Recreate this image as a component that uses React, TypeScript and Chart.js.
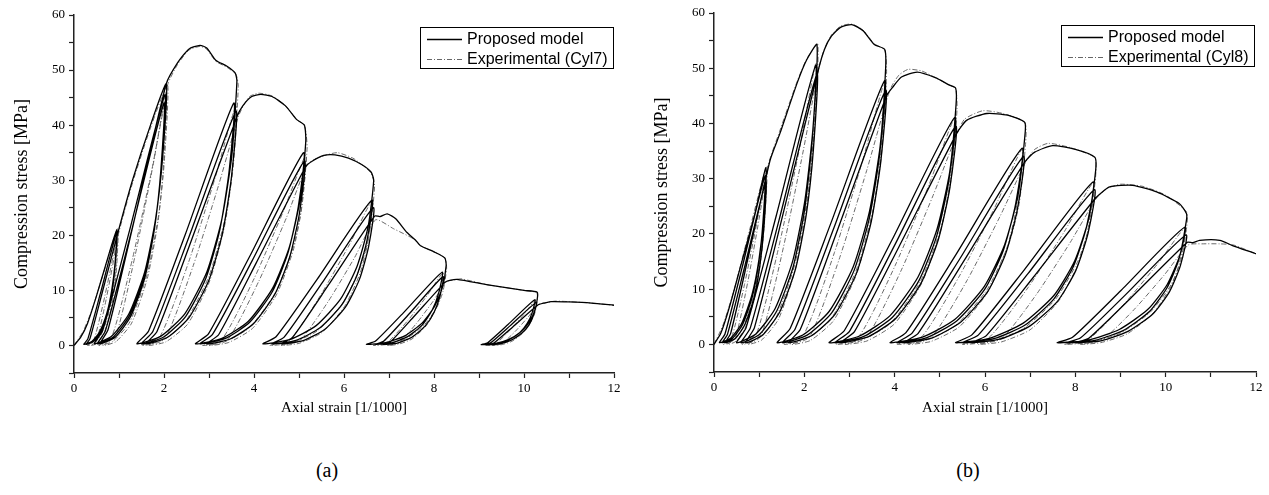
import React, { useEffect, useRef } from 'react';
import { Chart, registerables } from 'chart.js';
Chart.register(...registerables);

type P = [number, number];

// ---------- text / ticks ----------
const xTicks = [0, 2, 4, 6, 8, 10, 12];
const yTicks = [0, 10, 20, 30, 40, 50, 60];
const xAxisTitle = 'Axial strain [1/1000]';
const yAxisTitle = 'Compression stress [MPa]';
const labelsA = ['Proposed model', 'Experimental (Cyl7)'];
const labelsB = ['Proposed model', 'Experimental (Cyl8)'];
const captions = ['(a)', '(b)'];

// ---------- panel (a) Cyl7 : proposed model ----------
const aModG1: P[] = [[0,0],[0.15,1.5],[0.3,4],[0.5,9],[0.7,14.5],[0.95,21],
 [0.914,15.1],[0.84,10.1],[0.731,5.9],[0.57,2.5],[0.395,0.7],[0.22,0.2],
 [0.308,1.2],[0.585,9.4],[0.95,20.5],
 [0.916,14.8],[0.848,9.8],[0.746,5.7],[0.596,2.5],[0.433,0.7],[0.27,0.2],
 [0.353,1.2],[0.615,9.2],[0.96,20],[1.3,30],[1.7,40],[2.05,47.5]];
const aModG2: P[] = [[1.97,34.2],[1.81,22.8],[1.57,13.3],[1.218,5.7],[0.834,1.66],[0.45,0.3],
 [0.638,2.7],[1.235,20.9],[2.02,45.5],
 [1.945,32.8],[1.795,21.8],[1.57,12.7],[1.24,5.5],[0.88,1.6],[0.52,0.3],
 [0.698,2.64],[1.26,20.2],[2.0,44],
 [1.929,31.7],[1.787,21.1],[1.574,12.3],[1.262,5.3],[0.921,1.54],[0.58,0.3],
 [0.756,2.85],[1.315,21.9],[2.05,47.5],
 [2.3,51.3],[2.55,53.8],[2.8,54.5],[2.95,54],[3.15,51.8],[3.4,50.7],[3.58,49.5],[3.62,48]];
const aModG3: P[] = [[3.509,34.6],[3.287,23],[2.954,13.4],[2.466,5.8],[1.933,1.7],[1.4,0.3],
 [1.658,2.64],[2.475,20.2],[3.55,44],
 [3.448,31.7],[3.243,21.1],[2.935,12.3],[2.484,5.3],[1.992,1.54],[1.5,0.3],
 [1.752,2.55],[2.55,19.6],[3.6,42.5],
 [3.5,30.6],[3.3,20.4],[3.0,11.9],[2.56,5.1],[2.08,1.49],[1.6,0.3],
 [1.842,2.5],[2.61,19.1],[3.62,41.5],
 [3.75,43.5],[3.95,45.2],[4.15,45.6],[4.4,45.2],[4.7,43.5],[4.95,41],[5.12,40],[5.15,37]];
const aModG4: P[] = [[5.028,26.6],[4.783,17.8],[4.415,10.4],[3.876,4.4],[3.288,1.3],[2.7,0.3],
 [2.988,2.1],[3.9,16.1],[5.1,35],
 [4.985,25.2],[4.755,16.8],[4.41,9.8],[3.904,4.2],[3.352,1.23],[2.8,0.3],
 [3.078,2.0],[3.96,15.4],[5.12,33.5],
 [5.012,24.1],[4.795,16.1],[4.469,9.4],[3.992,4.0],[3.471,1.17],[2.95,0.3],
 [3.214,1.95],[4.05,15],[5.15,32.5],
 [5.3,33.5],[5.55,34.5],[5.8,34.6],[6.1,34],[6.4,32.8],[6.6,31.5],[6.66,30]];
const aModG5: P[] = [[6.537,21.6],[6.291,14.4],[5.922,8.4],[5.381,3.6],[4.79,1.05],[4.2,0.3],
 [4.49,1.58],[5.41,12.1],[6.62,26.4],
 [6.509,19],[6.287,12.7],[5.954,7.4],[5.466,3.2],[4.933,0.92],[4.4,0.3],
 [4.67,1.5],[5.525,11.5],[6.65,25],
 [6.548,18],[6.343,12],[6.035,7],[5.584,3],[5.092,0.88],[4.6,0.3],
 [4.85,1.41],[5.64,10.8],[6.68,23.5],
 [6.8,23.4],[6.96,23.9],[7.15,23],[7.4,20.5],[7.58,19.2],[7.7,18.1],[8.0,17],[8.24,15.9],[8.27,14.5]];
const aModG6: P[] = [[8.182,10.4],[8.005,7.0],[7.739,4.1],[7.35,1.74],[6.925,0.51],[6.5,0.2],
 [6.702,0.8],[7.34,6.1],[8.18,13.3],
 [8.106,9.6],[7.958,6.4],[7.736,3.7],[7.41,1.6],[7.055,0.47],[6.7,0.2],
 [6.88,0.75],[7.45,5.75],[8.2,12.5],
 [8.134,9.0],[8.0,6.0],[7.801,3.5],[7.508,1.5],[7.189,0.44],[6.87,0.2],
 [7.036,0.69],[7.56,5.3],[8.25,11.5],
 [8.35,11.8],[8.51,12],[9.2,11],[10.0,10],[10.29,9.7],[10.3,8.8]];
const aModG7: P[] = [[10.238,6.3],[10.113,4.2],[9.925,2.46],[9.65,1.06],[9.35,0.31],[9.05,0.15],
 [9.193,0.5],[9.645,3.8],[10.24,8.3],
 [10.184,6.0],[10.072,4.0],[9.904,2.3],[9.658,1.0],[9.389,0.29],[9.12,0.15],
 [9.258,0.47],[9.695,3.6],[10.27,7.8],
 [10.217,5.6],[10.11,3.7],[9.949,2.2],[9.714,0.94],[9.457,0.27],[9.2,0.15],
 [9.332,0.44],[9.75,3.36],[10.3,7.3],
 [10.45,7.7],[10.6,7.95],[11.0,7.9],[11.5,7.7],[12,7.3]];

// ---------- panel (a) Cyl7 : experimental ----------
const aExpG1: P[] = [[0,0],[0.2,2.5],[0.4,6.5],[0.65,13],[0.97,21.3],
 [0.937,14.9],[0.883,10.65],[0.769,5.75],[0.601,1.92],[0.434,0.32],[0.3,0],
 [0.436,0.83],[0.64,7.3],[0.83,14.6],[0.98,20.8],
 [0.95,14.6],[0.902,10.4],[0.8,5.6],[0.65,1.87],[0.5,0.31],[0.38,0],
 [0.5,0.8],[0.68,7],[0.848,14],[0.98,20],[1.3,29.5],[1.7,39.5],[2.08,47.3]];
const aExpG2: P[] = [[2.004,33.1],[1.881,23.7],[1.621,12.8],[1.239,4.26],[0.856,0.71],[0.55,0],
 [0.85,1.8],[1.3,15.75],[1.72,31.5],[2.05,45],
 [1.98,31.5],[1.868,22.5],[1.63,12.2],[1.28,4.05],[0.93,0.68],[0.65,0],
 [0.936,1.9],[1.365,16.6],[1.765,33.1],[2.08,47.3],
 [2.3,51],[2.55,53.6],[2.8,54.3],[2.95,53.8],[3.15,51.6],[3.4,50.5],[3.6,49.2],[3.65,47]];
const aExpG3: P[] = [[3.543,32.9],[3.371,23.5],[3.005,12.7],[2.468,4.23],[1.93,0.7],[1.5,0],
 [1.92,1.74],[2.55,15.2],[3.138,30.5],[3.6,43.5],
 [3.503,30.5],[3.347,21.75],[3.015,11.7],[2.528,3.9],[2.04,0.65],[1.65,0],
 [2.05,1.66],[2.65,14.5],[3.21,29],[3.65,41.5],
 [3.75,43.3],[3.9,45.2],[4.1,45.8],[4.4,45.3],[4.7,43.5],[4.95,41],[5.12,40],[5.18,36]];
const aExpG4: P[] = [[5.064,25.2],[4.877,18],[4.481,9.7],[3.899,3.24],[3.316,0.54],[2.85,0],
 [3.31,1.38],[4.0,12.1],[4.644,24.2],[5.15,34.5],
 [5.043,24.2],[4.871,17.25],[4.505,9.3],[3.968,3.1],[3.43,0.52],[3.0,0],
 [3.44,1.32],[4.1,11.55],[4.716,23.1],[5.2,33],
 [5.5,34.3],[5.85,35],[6.2,34],[6.4,32.8],[6.6,31.3],[6.68,29]];
const aExpG5: P[] = [[6.564,20.3],[6.377,14.5],[5.981,7.8],[5.399,2.6],[4.816,0.44],[4.35,0],
 [4.804,1.05],[5.485,9.2],[6.12,18.3],[6.62,26.2],
 [6.519,18.3],[6.357,13.1],[6.014,7.1],[5.509,2.36],[5.004,0.39],[4.6,0],
 [5.02,0.91],[5.65,8.0],[6.238,16],[6.7,22.8],
 [7.1,21.2],[7.58,19.2],[7.7,18.1],[8.0,17],[8.24,15.9],[8.28,14]];
const aExpG6: P[] = [[8.199,9.8],[8.068,7.0],[7.791,3.78],[7.384,1.26],[6.976,0.21],[6.65,0],
 [6.96,0.53],[7.425,4.6],[7.86,9.2],[8.2,13.2],
 [8.138,9.2],[8.038,6.6],[7.825,3.56],[7.513,1.19],[7.2,0.2],[6.95,0],
 [7.216,0.46],[7.615,4.06],[7.987,8.1],[8.28,11.6],
 [8.45,11.9],[8.6,12.1],[9.2,11],[10.0,10],[10.28,9.6],[10.3,8.5]];
const aExpG7: P[] = [[10.243,5.95],[10.15,4.25],[9.955,2.3],[9.668,0.77],[9.38,0.13],[9.15,0],
 [9.37,0.33],[9.7,2.87],[10.008,5.74],[10.25,8.2],
 [10.203,5.74],[10.127,4.1],[9.965,2.2],[9.728,0.74],[9.49,0.12],[9.3,0],
 [9.504,0.3],[9.81,2.6],[10.096,5.2],[10.32,7.4],
 [10.5,7.8],[10.7,8.05],[11.0,7.95],[11.5,7.7],[12,7.3]];

// ---------- panel (b) Cyl8 : proposed model ----------
const bModG1: P[] = [[0,0],[0.15,2],[0.35,7],[0.6,14.5],[0.9,23.5],[1.15,32],
 [1.099,23],[0.996,15.4],[0.841,9.0],[0.614,3.84],[0.367,1.12],[0.12,0.3],
 [0.241,1.83],[0.625,14],[1.13,30.5],
 [1.083,22],[0.988,14.6],[0.845,8.5],[0.636,3.66],[0.408,1.07],[0.18,0.3],
 [0.296,1.77],[0.665,13.6],[1.15,29.5],
 [1.105,21.2],[1.015,14.2],[0.88,8.3],[0.682,3.54],[0.466,1.03],[0.25,0.3],
 [0.369,2.0],[0.745,15.3],[1.24,33.3],[1.46,38.2],[1.84,47.3],[2.05,51.5],[2.28,54.3]];
const bModG2: P[] = [[2.191,39.1],[2.013,26.1],[1.746,15.2],[1.354,6.5],[0.927,1.9],[0.5,0.3],
 [0.71,3.0],[1.375,23.2],[2.25,50.5],
 [2.168,36.4],[2.003,24.2],[1.755,14.1],[1.392,6.1],[1.004,1.77],[0.6,0.3],
 [0.802,2.94],[1.44,22.5],[2.28,49],
 [2.201,35.3],[2.043,23.5],[1.806,13.7],[1.458,5.9],[1.079,1.7],[0.7,0.3],
 [0.894,3.0],[1.51,23],[2.32,50],[2.45,53.5],[2.6,55.8],[2.8,57.4],[3.05,57.9],[3.3,56.8],[3.55,54.3],[3.78,53.4],[3.8,50]];
const bModG3: P[] = [[3.68,36],[3.44,24],[3.08,14],[2.552,6],[1.976,1.75],[1.4,0.3],
 [1.686,2.87],[2.59,22],[3.78,47.8],
 [3.667,34.4],[3.441,22.9],[3.102,13.4],[2.605,5.7],[2.062,1.67],[1.52,0.3],
 [1.794,2.76],[2.66,21.2],[3.8,46],
 [3.693,33.1],[3.478,22.1],[3.155,12.9],[2.682,5.5],[2.166,1.6],[1.65,0.3],
 [1.91,2.7],[2.735,20.7],[3.82,45],
 [3.95,46.5],[4.15,48.4],[4.5,49.3],[4.9,48.3],[5.2,47],[5.35,46.4],[5.36,43.5]];
const bModG4: P[] = [[5.22,31.3],[4.939,20.9],[4.517,12.2],[3.899,5.2],[3.224,1.52],[2.55,0.3],
 [2.884,2.47],[3.94,18.9],[5.33,41.1],
 [5.198,29.6],[4.933,19.7],[4.535,11.5],[3.952,4.9],[3.316,1.44],[2.68,0.3],
 [3.0,2.37],[4.015,18.2],[5.35,39.5],
 [5.223,28.4],[4.968,19],[4.585,11.1],[4.024,4.7],[3.412,1.38],[2.8,0.3],
 [3.11,2.3],[4.09,17.6],[5.38,38.3],
 [5.6,40.6],[6.04,41.8],[6.5,41.5],[6.88,40.2],[6.88,37.5]];
const bModG5: P[] = [[6.731,27],[6.433,18],[5.986,10.5],[5.33,4.5],[4.615,1.31],[3.9,0.3],
 [4.25,2.13],[5.36,16.3],[6.82,35.5],
 [6.682,25.6],[6.405,17],[5.989,9.9],[5.38,4.3],[4.715,1.24],[4.05,0.3],
 [4.386,2.04],[5.45,15.6],[6.85,34],
 [6.718,24.5],[6.453,16.3],[6.055,9.5],[5.472,4.1],[4.836,1.19],[4.2,0.3],
 [4.52,2.0],[5.54,15.2],[6.88,33],
 [7.1,34.8],[7.5,36],[8.0,35.3],[8.43,33.9],[8.45,31.5]];
const bModG6: P[] = [[8.295,22.7],[7.985,15.1],[7.52,8.8],[6.838,3.8],[6.094,1.1],[5.35,0.3],
 [5.715,1.76],[6.87,13.5],[8.39,29.4],
 [8.245,21.2],[7.957,14.1],[7.523,8.2],[6.887,3.5],[6.194,1.03],[5.5,0.3],
 [5.85,1.68],[6.96,12.9],[8.42,28],
 [8.284,20.2],[8.012,13.4],[7.604,7.8],[7.006,3.4],[6.353,0.98],[5.7,0.3],
 [6.03,1.59],[7.075,12.2],[8.45,26.5],
 [8.76,28.5],[9.27,28.8],[9.8,27.6],[10.3,25.5],[10.46,23.7],[10.46,22.5]];
const bModG7: P[] = [[10.317,16.2],[10.031,10.8],[9.602,6.3],[8.973,2.7],[8.286,0.79],[7.6,0.3],
 [7.938,1.27],[9.01,9.75],[10.42,21.2],
 [10.289,15.3],[10.027,10.2],[9.634,5.9],[9.058,2.5],[8.429,0.74],[7.8,0.3],
 [8.118,1.19],[9.125,9.1],[10.45,19.8],
 [10.328,14.3],[10.083,9.5],[9.715,5.5],[9.176,2.4],[8.588,0.69],[8.0,0.3],
 [8.298,1.11],[9.24,8.5],[10.48,18.5],
 [10.6,18.4],[10.75,18.85],[11.2,18.85],[11.48,17.9],[11.97,16.5],[12,16.4]];

// ---------- panel (b) Cyl8 : experimental ----------
const bExpG1: P[] = [[0,0],[0.2,3.5],[0.45,10],[0.75,19.5],[1.17,32.3],
 [1.122,22.6],[1.044,16.15],[0.879,8.7],[0.637,2.9],[0.394,0.48],[0.2,0],
 [0.39,1.24],[0.675,10.85],[0.941,21.7],[1.15,31],
 [1.108,21.7],[1.04,15.5],[0.895,8.4],[0.683,2.8],[0.47,0.47],[0.3,0],
 [0.48,1.3],[0.75,11.4],[1.0,22.75],[1.2,32.5],[1.45,38.5],[1.85,47.8],[2.06,51.8],[2.3,54.3]];
const bExpG2: P[] = [[2.216,38],[2.082,27.2],[1.796,14.7],[1.376,4.9],[0.956,0.81],[0.62,0],
 [0.948,2.04],[1.44,17.85],[1.899,35.7],[2.26,51],
 [2.185,35.7],[2.064,25.5],[1.807,13.8],[1.43,4.6],[1.052,0.77],[0.75,0],
 [1.064,2.0],[1.535,17.5],[1.975,35],[2.32,50],
 [2.45,53.6],[2.6,56],[2.8,57.6],[3.05,58],[3.3,56.9],[3.55,54.4],[3.78,53.3],[3.82,49]];
const bExpG3: P[] = [[3.707,34.3],[3.525,24.5],[3.139,13.2],[2.572,4.4],[2.004,0.74],[1.55,0],
 [1.996,1.9],[2.665,16.6],[3.289,33.25],[3.78,47.5],
 [3.677,33.25],[3.512,23.75],[3.162,12.8],[2.647,4.3],[2.132,0.71],[1.72,0],
 [2.146,1.8],[2.785,15.75],[3.381,31.5],[3.85,45],
 [3.95,47],[4.1,48.8],[4.3,49.8],[4.6,49.5],[4.9,48.3],[5.2,47],[5.35,46.3],[5.38,42.5]];
const bExpG4: P[] = [[5.246,29.75],[5.032,21.25],[4.576,11.5],[3.906,3.8],[3.236,0.64],[2.7,0],
 [3.226,1.64],[4.015,14.35],[4.751,28.7],[5.33,41],
 [5.209,28.7],[5.014,20.5],[4.601,11.1],[3.994,3.7],[3.386,0.62],[2.9,0],
 [3.4,1.54],[4.15,13.5],[4.85,26.95],[5.4,38.5],
 [5.55,40.8],[5.95,42.3],[6.4,41.8],[6.88,40.2],[6.9,36.5]];
const bExpG5: P[] = [[6.758,25.55],[6.53,18.25],[6.045,9.9],[5.333,3.3],[4.62,0.55],[4.05,0],
 [4.604,1.41],[5.435,12.4],[6.211,24.7],[6.82,35.3],
 [6.694,24.7],[6.492,17.65],[6.064,9.5],[5.434,3.2],[4.804,0.53],[4.3,0],
 [4.82,1.32],[5.6,11.55],[6.328,23.1],[6.9,33],
 [7.1,35.3],[7.4,36.4],[7.9,35.6],[8.43,33.8],[8.45,30.5]];
const bExpG6: P[] = [[8.303,21.35],[8.067,15.25],[7.565,8.2],[6.828,2.75],[6.09,0.46],[5.5,0],
 [6.08,1.17],[6.95,10.25],[7.762,20.5],[8.4,29.3],
 [8.273,20.5],[8.069,14.65],[7.635,7.9],[6.998,2.64],[6.36,0.44],[5.85,0],
 [6.374,1.06],[7.16,9.3],[7.894,18.55],[8.47,26.5],
 [8.7,28.2],[9.0,29],[9.5,28.6],[10.0,27],[10.46,24],[10.47,21.5]];
const bExpG7: P[] = [[10.334,15.05],[10.116,10.75],[9.654,5.8],[8.974,1.94],[8.294,0.32],[7.75,0],
 [8.284,0.84],[9.085,7.35],[9.833,14.7],[10.42,21],
 [10.304,14.7],[10.118,10.5],[9.724,5.67],[9.144,1.89],[8.564,0.32],[8.1,0],
 [8.58,0.72],[9.3,6.3],[9.972,12.6],[10.5,18],
 [10.8,18.2],[11.2,18.2],[11.5,18.0],[11.97,16.5],[12,16.4]];

const SERIF = '"Liberation Serif", "Times New Roman", serif';
const SANS = '"Liberation Sans", Arial, sans-serif';

const toXY = (groups: P[][]) => groups.flat().map(([x, y]) => ({ x, y }));

const boxLegend = {
  id: 'boxLegend',
  afterDraw(chart: any, _args: any, opts: any) {
    const { ctx } = chart;
    const { x, y, w, h, labels } = opts;
    ctx.save();
    ctx.fillStyle = '#fff';
    ctx.fillRect(x, y, w, h);
    ctx.strokeStyle = '#000';
    ctx.lineWidth = 1;
    ctx.strokeRect(x + 0.5, y + 0.5, w, h);
    labels.forEach((lab: string, i: number) => {
      const cy = y + 12 + i * 20;
      ctx.beginPath();
      ctx.setLineDash(i === 0 ? [] : [5, 2, 1, 2]);
      ctx.strokeStyle = i === 0 ? '#000' : '#555';
      ctx.lineWidth = i === 0 ? 1.4 : 0.9;
      ctx.moveTo(x + 7, cy + 0.5);
      ctx.lineTo(x + 42, cy + 0.5);
      ctx.stroke();
      ctx.setLineDash([]);
      ctx.fillStyle = '#000';
      ctx.font = `16px ${SANS}`;
      ctx.textBaseline = 'middle';
      ctx.textAlign = 'left';
      ctx.fillText(lab, x + 47, cy + 1);
    });
    ctx.restore();
  },
};

function makeConfig(model: P[][], exp: P[][], labels: string[], legend: { x: number; y: number }, padTop: number, padRight: number, xH: number): any {
  return {
    type: 'scatter',
    data: {
      datasets: [
        { label: labels[0], data: toXY(model), showLine: true, borderColor: '#000', borderWidth: 1.3, pointRadius: 0, tension: 0.2, fill: false, order: 0 },
        { label: labels[1], data: toXY(exp), showLine: true, borderColor: '#5a5a5a', borderWidth: 0.9, borderDash: [5, 2, 1, 2], pointRadius: 0, tension: 0.2, fill: false, order: 1 },
      ],
    },
    plugins: [boxLegend],
    options: {
      animation: false,
      responsive: false,
      devicePixelRatio: 1,
      layout: { padding: { top: padTop, right: padRight, left: 0, bottom: 0 } },
      plugins: {
        legend: { display: false },
        tooltip: { enabled: false },
        boxLegend: { x: legend.x, y: legend.y, w: 193, h: 41, labels },
      },
      scales: {
        x: {
          type: 'linear', min: 0, max: 12,
          afterFit: (s: any) => { s.height = xH; },
          ticks: { stepSize: 1, autoSkip: false, maxRotation: 0, color: '#000', padding: 3, font: { family: SERIF, size: 13 },
            callback: (v: any) => (xTicks.includes(v) ? String(v) : '') },
          grid: { drawOnChartArea: false, drawTicks: true, tickLength: 5, tickColor: '#222', tickWidth: 1.2 },
          border: { display: true, color: '#222', width: 1.5 },
          title: { display: true, text: xAxisTitle, color: '#000', font: { family: SERIF, size: 15 }, padding: { top: 0, bottom: 13 } },
        },
        y: {
          type: 'linear', min: -5, max: 60,
          afterFit: (s: any) => { s.width = 74; },
          ticks: { stepSize: 5, autoSkip: false, color: '#000', padding: 4, font: { family: SERIF, size: 13 },
            callback: (v: any) => (yTicks.includes(v) ? String(v) : '') },
          grid: { drawOnChartArea: false, drawTicks: true, tickLength: 5, tickColor: '#222', tickWidth: 1.2 },
          border: { display: true, color: '#222', width: 1.5 },
          title: { display: true, text: yAxisTitle, color: '#000', font: { family: SERIF, size: 18 }, padding: { top: 11, bottom: 0 } },
        },
      },
    },
  };
}

export default function App() {
  const refA = useRef<HTMLCanvasElement>(null);
  const refB = useRef<HTMLCanvasElement>(null);

  useEffect(() => {
    const a = new Chart(refA.current!, makeConfig(
      [aModG1, aModG2, aModG3, aModG4, aModG5, aModG6, aModG7],
      [aExpG1, aExpG2, aExpG3, aExpG4, aExpG5, aExpG6, aExpG7],
      labelsA, { x: 420, y: 27 }, 15, 26, 57));
    const b = new Chart(refB.current!, makeConfig(
      [bModG1, bModG2, bModG3, bModG4, bModG5, bModG6, bModG7],
      [bExpG1, bExpG2, bExpG3, bExpG4, bExpG5, bExpG6, bExpG7],
      labelsB, { x: 421, y: 25 }, 13, 13, 58));
    return () => { a.destroy(); b.destroy(); };
  }, []);

  const capStyle: React.CSSProperties = {
    position: 'absolute', top: 456, width: 200, textAlign: 'center',
    fontFamily: SERIF, fontSize: 20, lineHeight: '28px', color: '#000',
  };

  return (
    <div style={{ position: 'absolute', left: 0, top: 0, width: 1269, height: 495, background: '#fff' }}>
      <canvas ref={refA} width={640} height={430} style={{ position: 'absolute', left: 0, top: 0, width: 640, height: 430 }} />
      <canvas ref={refB} width={629} height={430} style={{ position: 'absolute', left: 640, top: 0, width: 629, height: 430 }} />
      <div style={{ ...capStyle, left: 227 }}>{captions[0]}</div>
      <div style={{ ...capStyle, left: 868 }}>{captions[1]}</div>
    </div>
  );
}
